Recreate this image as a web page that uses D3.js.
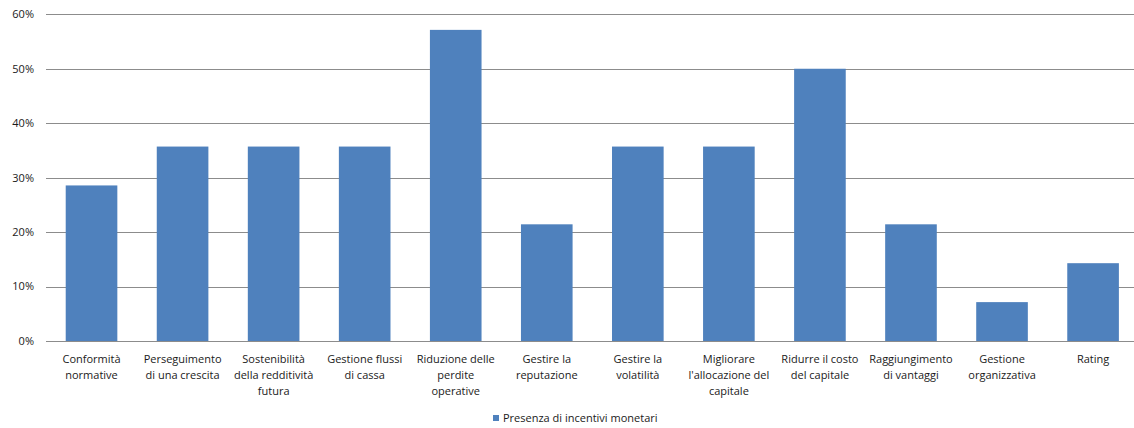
<!DOCTYPE html>
<html><head><meta charset="utf-8">
<script src="https://cdn.jsdelivr.net/npm/d3@7"></script>
<style>
html,body{margin:0;padding:0;background:#fff;overflow:hidden;}
svg{display:block;}
text{font-family:"Open Sans",sans-serif;font-size:11px;fill:#1a1a1a;}
</style></head><body>
<svg id="c" width="1134" height="428"></svg>
<script>
const categories = [
  "Conformità\nnormative",
  "Perseguimento\ndi una crescita",
  "Sostenibilità\ndella redditività\nfutura",
  "Gestione flussi\ndi cassa",
  "Riduzione delle\nperdite\noperative",
  "Gestire la\nreputazione",
  "Gestire la\nvolatilità",
  "Migliorare\nl'allocazione del\ncapitale",
  "Ridurre il costo\ndel capitale",
  "Raggiungimento\ndi vantaggi",
  "Gestione\norganizzativa",
  "Rating"
];
const values = [0.2857, 0.3571, 0.3571, 0.3571, 0.5714, 0.2143, 0.3571, 0.3571, 0.5, 0.2143, 0.0714, 0.1429];
const yTicks = [0, 0.1, 0.2, 0.3, 0.4, 0.5, 0.6];
const seriesName = "Presenza di incentivi monetari";

(function(){
const svg = d3.select("#c");
const mLeft = 46, mRight = 1138.6, mTop = 14.3, mBottom = 341;
const x = d3.scaleBand().domain(categories.map((d,i)=>i)).range([mLeft, mRight]).paddingInner(0.433).paddingOuter(0.2165);
const y = d3.scaleLinear().domain([0, 0.6]).range([mBottom, mTop]);

svg.append("g").selectAll("line").data(yTicks).join("line")
  .attr("x1", mLeft).attr("x2", 1134)
  .attr("y1", d=>Math.round(y(d))+0.5).attr("y2", d=>Math.round(y(d))+0.5)
  .attr("stroke", "#8c8c8c").attr("stroke-width", 1);

svg.append("g").selectAll("text").data(yTicks).join("text")
  .attr("x", 34).attr("y", d=>y(d)).attr("dy", "0.35em")
  .attr("text-anchor", "end").text(d3.format(".0%"));

svg.append("g").selectAll("rect").data(values).join("rect")
  .attr("x", (d,i)=>x(i)).attr("width", x.bandwidth())
  .attr("y", d=>y(d)).attr("height", d=>mBottom - y(d))
  .attr("fill", "#4f81bd");

svg.append("line").attr("x1", mLeft).attr("x2", 1134)
  .attr("y1", Math.round(mBottom)+0.5).attr("y2", Math.round(mBottom)+0.5)
  .attr("stroke", "#8c8c8c");

const xl = svg.append("g").selectAll("text").data(categories).join("text")
  .attr("text-anchor", "middle")
  .attr("transform", (d,i)=>`translate(${x(i)+x.bandwidth()/2},363)`);
xl.selectAll("tspan").data(d=>d.split("\n")).join("tspan")
  .attr("x", 0).attr("y", (d,j)=>j*16).text(d=>d);

const lg = svg.append("g");
lg.append("rect").attr("x", 493).attr("y", 415).attr("width", 6).attr("height", 6).attr("fill", "#4f81bd");
lg.append("text").attr("x", 503).attr("y", 418).attr("dy", "0.35em").text(seriesName);
})();
</script>
</body></html>
